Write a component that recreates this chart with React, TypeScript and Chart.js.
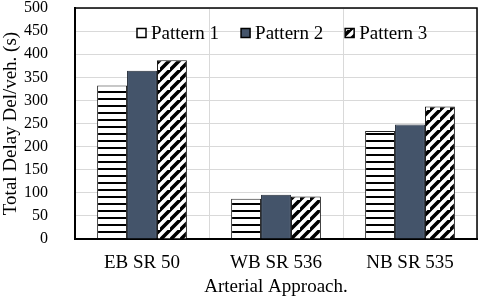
import React, { useEffect, useRef } from "react";
import { Chart, registerables } from "chart.js";

Chart.register(...registerables);

const categories = ["EB SR 50", "WB SR 536", "NB SR 535"];
const seriesNames = ["Pattern 1", "Pattern 2", "Pattern 3"];
const pattern1 = [332, 87, 234];
const pattern2 = [364, 96, 248];
const pattern3 = [387, 92, 287];
const yTicks = [0, 50, 100, 150, 200, 250, 300, 350, 400, 450, 500];

const SERIF = "'Liberation Serif', 'Times New Roman', serif";

function makeHStripe(): CanvasPattern | string {
  const c = document.createElement("canvas");
  c.width = 4;
  c.height = 7;
  const g = c.getContext("2d")!;
  g.fillStyle = "#ffffff";
  g.fillRect(0, 0, 4, 7);
  g.fillStyle = "#000000";
  g.fillRect(0, 0, 4, 2);
  return g.createPattern(c, "repeat") || "#fff";
}

function makeDiag(): CanvasPattern | string {
  const s = 10;
  const c = document.createElement("canvas");
  c.width = s;
  c.height = s;
  const g = c.getContext("2d")!;
  g.fillStyle = "#ffffff";
  g.fillRect(0, 0, s, s);
  g.strokeStyle = "#000000";
  g.lineWidth = 3.6;
  g.beginPath();
  g.moveTo(-1, s + 1);
  g.lineTo(s + 1, -1);
  g.moveTo(-s - 1, s + 1);
  g.lineTo(1, -1);
  g.moveTo(s - 1, 2 * s + 1);
  g.lineTo(2 * s + 1, s - 1);
  g.stroke();
  return g.createPattern(c, "repeat") || "#fff";
}

export default function App() {
  const ref = useRef<HTMLCanvasElement>(null);
  useEffect(() => {
    const p1 = makeHStripe();
    const p3 = makeDiag();
    const fills = [p1, "#44546A", p3];
    const borders = ["#222222", "#222a36", "#111111"];

    const frame = {
      id: "frame",
      afterDraw(chart: any) {
        const { ctx, chartArea: a } = chart;
        ctx.save();
        ctx.strokeStyle = "#000000";
        ctx.lineWidth = 1.5;
        ctx.beginPath();
        ctx.moveTo(a.left, a.top);
        ctx.lineTo(a.right, a.top);
        ctx.lineTo(a.right, a.bottom);
        ctx.stroke();
        // legend
        ctx.font = `19px ${SERIF}`;
        ctx.textBaseline = "middle";
        ctx.textAlign = "left";
        let x = a.left + 62;
        const y = a.top + 25;
        seriesNames.forEach((name, i) => {
          const bs = 9;
          ctx.fillStyle = i === 0 ? "#ffffff" : fills[i];
          ctx.fillRect(x, y - bs / 2, bs, bs);
          ctx.strokeStyle = "#000000";
          ctx.lineWidth = 1.5;
          ctx.strokeRect(x, y - bs / 2, bs, bs);
          ctx.fillStyle = "#000000";
          ctx.fillText(name, x + bs + 5, y + 1);
          const w = ctx.measureText(name).width;
          x += bs + 5 + w + 22;
        });
        ctx.restore();
      },
    };

    const chart = new Chart(ref.current!, {
      type: "bar",
      data: {
        labels: categories,
        datasets: [pattern1, pattern2, pattern3].map((d, i) => ({
          label: seriesNames[i],
          data: d,
          backgroundColor: fills[i] as any,
          borderColor: borders[i],
          borderWidth: 1,
          categoryPercentage: 0.67,
          barPercentage: 1.0,
        })),
      },
      options: {
        animation: false,
        responsive: false,
        maintainAspectRatio: false,
        layout: { padding: { top: 8, right: 3, left: 0, bottom: 0 } },
        plugins: {
          legend: { display: false },
          tooltip: { enabled: false },
        },
        scales: {
          x: {
            grid: { display: true, color: "#d9d9d9", lineWidth: 1, drawTicks: false, offset: true },
            border: { display: true, color: "#000000", width: 2 },
            ticks: { color: "#000000", font: { family: SERIF, size: 19 }, padding: 13 },
            title: {
              display: true,
              text: "Arterial Approach.",
              color: "#000000",
              font: { family: SERIF, size: 19, lineHeight: 1 },
              padding: 0,
            },
            afterFit(scale: any) {
              scale.height = 58;
              scale.paddingLeft = 0;
              scale.paddingRight = 0;
            },
          },
          y: {
            min: 0,
            max: 500,
            afterBuildTicks(scale: any) {
              scale.ticks = yTicks.map((v) => ({ value: v }));
            },
            grid: { color: "#d9d9d9", lineWidth: 1, drawTicks: false },
            border: { display: true, color: "#000000", width: 2 },
            ticks: { color: "#000000", font: { family: SERIF, size: 16 }, padding: 27, autoSkip: false },
            title: {
              display: true,
              text: "Total Delay Del/veh. (s)",
              color: "#000000",
              font: { family: SERIF, size: 19, lineHeight: 1.2 },
              padding: 0,
            },
            afterFit(scale: any) {
              scale.width = 75;
              scale.paddingTop = 0;
              scale.paddingBottom = 0;
            },
          },
        },
      },
      plugins: [frame],
    });
    return () => chart.destroy();
  }, []);

  return (
    <div style={{ position: "fixed", left: 0, top: 0, width: 480, height: 297, background: "#fff" }}>
      <canvas ref={ref} width={480} height={297} style={{ width: 480, height: 297, display: "block" }} />
    </div>
  );
}
